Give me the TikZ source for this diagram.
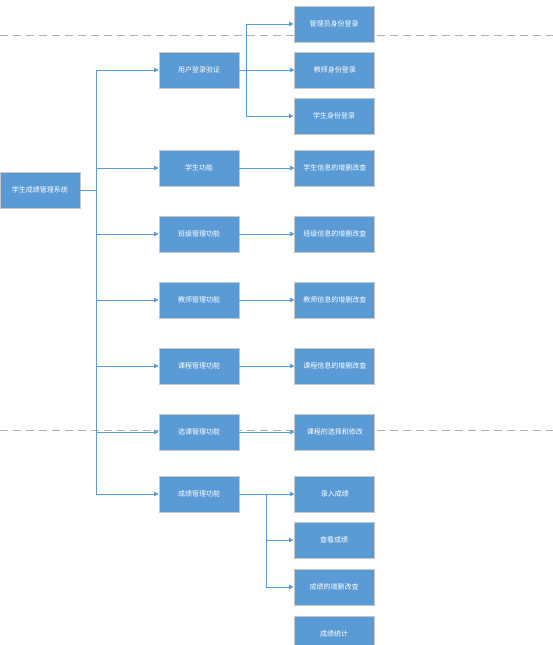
\documentclass[tikz,border=0pt]{standalone}
\usepackage{fontspec}
\newfontfamily\cjk{Noto Sans CJK SC}
\usetikzlibrary{arrows.meta,positioning}
\definecolor{boxblue}{RGB}{91,155,213}
\definecolor{boxedge}{RGB}{200,200,200}
\definecolor{guidegray}{RGB}{176,176,176}

\begin{document}
\begin{tikzpicture}[
        x=1pt, y=-1pt,
        node distance=55pt,
        box/.style={rectangle, draw=boxedge, line width=0.9pt, fill=boxblue, text=white, minimum width=80pt, minimum height=36pt, inner sep=1pt, font=\cjk\fontsize{7}{8}\selectfont},
        arrow/.style={-{Triangle[length=4.5pt, width=4.5pt]}, draw=boxblue, line width=0.7pt},
        link/.style={draw=boxblue, line width=0.7pt},
        guide/.style={draw=guidegray, dash pattern=on 8pt off 5pt, line width=0.8pt}
    ]
        \useasboundingbox (0,0) rectangle (553,645);
        \clip (0,0) rectangle (553,645);

        % Guide lines
        \draw[guide] (0,35) -- (553,35);
        \draw[guide] (0,430) -- (553,430);

        % Nodes
        \node[box] (root) at (40,190) {学生成绩管理系统};
        \node[box] (login) at (199,70) {用户登录验证};
        \node[box] (stu) at (199,168) {学生功能};
        \node[box] (cls) at (199,234) {班级管理功能};
        \node[box] (tea) at (199,300) {教师管理功能};
        \node[box] (crs) at (199,366) {课程管理功能};
        \node[box] (sel) at (199,432) {选课管理功能};
        \node[box] (score) at (199,494) {成绩管理功能};

        \node[box, right=of login] (tealogin) {教师身份登录};
        \node[box] (admlogin) at (334,24) {管理员身份登录};
        \node[box] (stulogin) at (334,116) {学生身份登录};
        \node[box, right=of stu] (stuinfo) {学生信息的增删改查};
        \node[box, right=of cls] (clsinfo) {班级信息的增删改查};
        \node[box, right=of tea] (teainfo) {教师信息的增删改查};
        \node[box, right=of crs] (crsinfo) {课程信息的增删改查};
        \node[box, right=of sel] (selinfo) {课程的选择和修改};
        \node[box, right=of score] (scorein) {录入成绩};
        \node[box] (scoreview) at (334,540) {查看成绩};
        \node[box] (scoreedit) at (334,587) {成绩的增删改查};
        \node[box] (scorestat) at (334,634) {成绩统计};

        % Trunk
        \coordinate (trunk) at (96,190);
        \draw[link] (root.east) -- (trunk);
        \foreach \n in {login,stu,cls,tea,crs,sel,score}
            \draw[arrow] (trunk) |- (\n.west);

        % Login branch
        \coordinate (loginfork) at (246,70);
        \draw[link] (login.east) -- (loginfork);
        \foreach \n in {admlogin,tealogin,stulogin}
            \draw[arrow] (loginfork) |- (\n.west);

        % Direct links
        \foreach \a/\b in {stu/stuinfo,cls/clsinfo,tea/teainfo,crs/crsinfo,sel/selinfo}
            \draw[arrow] (\a) -- (\b);

        % Score branch
        \coordinate (scorefork) at (266,494);
        \draw[link] (score.east) -- (scorefork);
        \foreach \n in {scorein,scoreview,scoreedit}
            \draw[arrow] (scorefork) |- (\n.west);

    \end{tikzpicture}
\end{document}
